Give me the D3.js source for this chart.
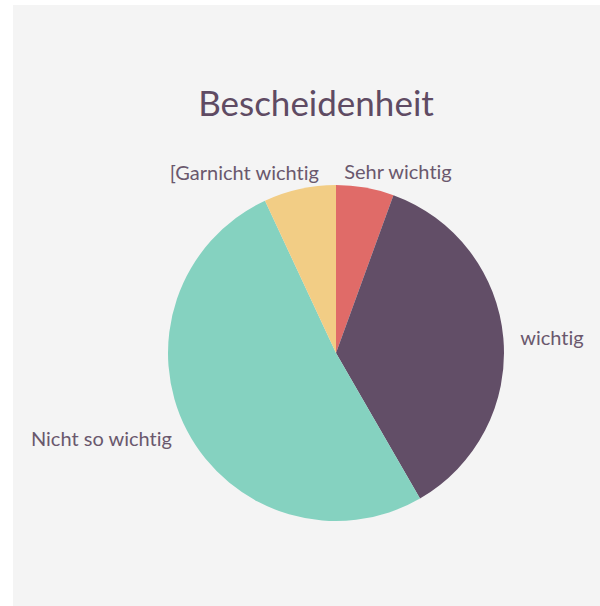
<!DOCTYPE html>
<html>
<head>
<meta charset="utf-8">
<script src="https://cdn.jsdelivr.net/npm/d3@7/dist/d3.min.js"></script>
<style>
html,body{margin:0;padding:0;background:#fff;}
svg{display:block;}
text{font-variant-ligatures:none;font-feature-settings:"liga" 0,"clig" 0;}
</style>
</head>
<body>
<svg id="chart" width="600" height="606"></svg>
<script>
const title = "Bescheidenheit";
const categories = ["Sehr wichtig", "wichtig", "Nicht so wichtig", "[Garnicht wichtig"];
const values = [4, 26, 37, 5];
const colors = ["#e06b68", "#624e67", "#85d2c0", "#f2cd85"];

const W = 600, H = 606;
const cx = 336, cy = 353, r = 168, labelR = 185;
const svg = d3.select("#chart");

svg.append("rect").attr("x", 13).attr("y", 5).attr("width", W - 13).attr("height", H - 5).attr("fill", "#f4f4f4");

svg.append("text")
  .attr("x", 316).attr("y", 116)
  .attr("text-anchor", "middle")
  .attr("font-family", "Lato, 'Open Sans', sans-serif")
  .attr("font-size", 35)
  .attr("fill", "#5f4b63")
  .text(title);

const data = categories.map((c, i) => ({name: c, value: values[i], color: colors[i]}));
const pie = d3.pie().value(d => d.value).sort(null);
const arcs = pie(data);
const arc = d3.arc().innerRadius(0).outerRadius(r);

const g = svg.append("g").attr("transform", `translate(${cx},${cy})`);
g.selectAll("path").data(arcs).join("path")
  .attr("d", arc)
  .attr("fill", d => d.data.color);

const labels = g.selectAll("text.lbl").data(arcs).join("text")
  .attr("class", "lbl")
  .attr("font-family", "Lato, 'Open Sans', sans-serif")
  .attr("font-size", 20)
  .attr("fill", "#6a586d")
  .attr("text-anchor", "middle")
  .attr("dy", "0.35em")
  .text(d => d.data.name);

labels.each(function(d) {
  const a = (d.startAngle + d.endAngle) / 2;
  const px = labelR * Math.sin(a), py = -labelR * Math.cos(a);
  const w = this.getComputedTextLength();
  const k = Math.max(-1, Math.min(1, Math.sin(a) * 3.2));
  d3.select(this).attr("x", px + (w / 2) * k).attr("y", py + 1);
});
</script>
</body>
</html>
